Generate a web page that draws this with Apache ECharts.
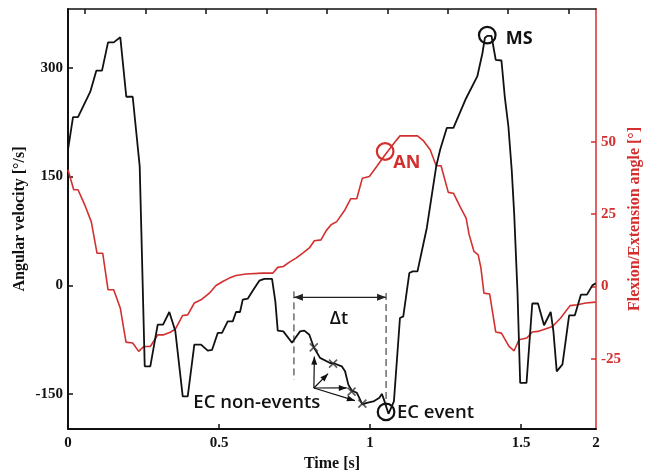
<!DOCTYPE html>
<html>
<head>
<meta charset="utf-8">
<script src="https://cdn.jsdelivr.net/npm/echarts@6/dist/echarts.min.js"></script>
<style>html,body{margin:0;padding:0;background:#fff}#c{width:657px;height:471px}</style>
</head>
<body>
<div id="c"></div>
<script>
// ---- axis ticks / labels ----
const xTickValues = [0, 0.5, 1, 1.5, 1.748];
const xTickLabels = ['0', '0.5', '1', '1.5', '2'];
const topTickValues = [0.057, 0.257, 0.457, 0.657, 0.857, 1.057, 1.257, 1.457, 1.657];
const velTicks = [-150, 0, 150, 300];
const angTicks = [-25, 0, 25, 50];

// ---- angular velocity (black, left axis) ----
const velTime = [0, 0.0166, 0.0331, 0.0738, 0.0937, 0.1126, 0.1325, 0.1513, 0.1732, 0.1930, 0.2142, 0.2252, 0.2374, 0.2427,
  0.254, 0.2725, 0.297, 0.3146, 0.3354, 0.3553, 0.3798, 0.3964, 0.4182, 0.4404, 0.4626, 0.4768, 0.4957, 0.5099, 0.5288,
  0.5454, 0.5563, 0.5695, 0.5785, 0.595, 0.6136, 0.6334, 0.65, 0.6755, 0.6864, 0.6944, 0.7129, 0.7417, 0.7526, 0.7682,
  0.7825, 0.799, 0.8136, 0.8344, 0.8675, 0.8841, 0.9063, 0.9172, 0.9281, 0.9394, 0.956, 0.9745, 0.9891, 1.011, 1.031,
  1.039, 1.046, 1.061, 1.079, 1.099, 1.110, 1.130, 1.141, 1.157, 1.188, 1.219, 1.232, 1.254, 1.276, 1.318, 1.355, 1.372,
  1.380, 1.388, 1.402, 1.416, 1.435, 1.446, 1.458, 1.469, 1.477, 1.488, 1.497, 1.518, 1.537, 1.556, 1.576, 1.598, 1.607,
  1.618, 1.637, 1.659, 1.678, 1.698, 1.718, 1.736, 1.747];
const velValues = [187, 232, 232, 267, 296, 296, 335, 335, 342, 260, 260, 214.5, 164, 77,
  -111.6, -111.6, -54, -54, -36.7, -63, -153, -153, -81.7, -81.7, -90, -89, -65.6, -65.6, -49.6,
  -49.6, -36.7, -36.7, -19.7, -18.3, -6, 6.5, 9, 9, -22, -62.4, -63.4, -79, -72.5, -63.4,
  -62.4, -68, -85.4, -100, -107, -108, -111.6, -118.5, -136.8, -145, -148, -164, -162, -160, -155,
  -149.6, -157.5, -177, -160, -45, -42.7, 17, 19.3, 19.3, 79.5, 164, 187, 217, 217, 258, 288, 320,
  341, 344, 344, 311, 310, 260, 219, 159, 100, -8, -134.5, -134.5, -25, -25, -55, -36.7, -63.4,
  -118.5, -109, -41.3, -41.3, -12.8, -12.8, 0, 2.8];

// ---- flexion/extension angle (red, right axis) ----
const angTime = [0, 0.0189, 0.0331, 0.0553, 0.0772, 0.096, 0.1149, 0.1325, 0.1513, 0.1732, 0.192, 0.2142, 0.2341, 0.2507,
  0.2725, 0.297, 0.3169, 0.3387, 0.3553, 0.3798, 0.3964, 0.4182, 0.4404, 0.4679, 0.4901, 0.5123, 0.5341, 0.5563, 0.5894,
  0.6447, 0.6778, 0.6944, 0.7129, 0.7328, 0.755, 0.7772, 0.799, 0.8156, 0.8377, 0.8543, 0.8709, 0.8897, 0.9172, 0.9361,
  0.956, 0.9745, 0.9977, 1.022, 1.050, 1.083, 1.099, 1.157, 1.176, 1.199, 1.219, 1.235, 1.259, 1.276, 1.298, 1.318, 1.328,
  1.344, 1.358, 1.367, 1.377, 1.396, 1.416, 1.435, 1.460, 1.477, 1.493, 1.519, 1.537, 1.556, 1.604, 1.631, 1.662, 1.686,
  1.714, 1.747];
const angValues = [40.3, 33.4, 33.4, 28.2, 22.3, 11.5, 11.5, -1.1, -1.1, -7.5, -19.2, -19.5, -22.4, -20.7,
  -20.7, -16.7, -16.7, -15.8, -14.7, -10, -9.8, -5.7, -4.6, -2.3, 0.35, 1.7, 2.9, 3.8, 4.3,
  4.6, 4.6, 6.6, 6.9, 8.4, 9.8, 11.5, 13.3, 15.8, 16.1, 19.2, 21.3, 22.4, 26.5, 30.3,
  30.3, 37.4, 38, 41.4, 45.5, 50, 52, 52, 50.4, 47.2, 41.7, 41.7, 32.5, 32.2, 27.6, 23.6, 17.9,
  12.1, 10.9, 6.4, -2.3, -2.6, -15.7, -16.1, -20.7, -22.2, -18.4, -17.8, -15.7, -15.5, -13.8, -10.9, -6.6, -6.3,
  -5.7, -5.4];

// ---- EC non-event markers (on velocity curve) ----
const nonEventTime = [0.8136, 0.8775, 0.9387, 0.9745];
const nonEventValues = [-85.4, -107.9, -146.5, -163];

const RED = '#d42f2f';
const BLACK = '#111';
const serif = 'Liberation Serif';
const sans = 'Open Sans';

const chart = echarts.init(document.getElementById('c'), null, {renderer: 'canvas'});

const velData = velTime.map((t, i) => [t, velValues[i]]);
const angData = angTime.map((t, i) => [t, angValues[i]]);
const nonEventData = nonEventTime.map((t, i) => [t, nonEventValues[i]]);

chart.setOption({
  animation: false,
  backgroundColor: '#fff',
  grid: {left: 68, right: 61, top: 9, bottom: 42, containLabel: false, outerBoundsMode: 'none'},
  xAxis: [{
    type: 'value', position: 'bottom', min: 0, max: 1.748,
    name: 'Time [s]', nameLocation: 'middle', nameGap: 21,
    nameTextStyle: {fontFamily: serif, fontWeight: 'bold', fontSize: 16, color: '#111'},
    axisLine: {show: true, onZero: false, lineStyle: {color: '#111', width: 2}},
    axisTick: {show: true, inside: true, length: 5, customValues: [0.5, 1, 1.5], lineStyle: {color: '#111', width: 1.5}},
    axisLabel: {customValues: xTickValues, margin: 7, fontFamily: serif, fontWeight: 'bold', fontSize: 15, color: '#111',
      formatter: v => { const i = xTickValues.findIndex(x => Math.abs(x - v) < 1e-6); return i >= 0 ? xTickLabels[i] : ''; }},
    splitLine: {show: false}
  }, {
    type: 'value', position: 'top', min: 0, max: 1.748,
    axisLine: {show: true, onZero: false, lineStyle: {color: '#111', width: 1.5}},
    axisTick: {show: true, inside: true, length: 5, customValues: topTickValues, lineStyle: {color: '#111', width: 1.5}},
    axisLabel: {show: false},
    splitLine: {show: false}
  }],
  yAxis: [{
    type: 'value', position: 'left', min: -198, max: 381,
    name: 'Angular velocity [°/s]', nameLocation: 'middle', nameGap: 40, nameRotate: 90, nameMoveOverlap: false,
    nameTextStyle: {fontFamily: serif, fontWeight: 'bold', fontSize: 16, color: '#111'},
    axisLine: {show: true, onZero: false, lineStyle: {color: '#111', width: 2}},
    axisTick: {show: true, inside: true, length: 5, customValues: velTicks, lineStyle: {color: '#111', width: 1.5}},
    axisLabel: {customValues: velTicks, margin: 5, fontFamily: serif, fontWeight: 'bold', fontSize: 15, color: '#111'},
    splitLine: {show: false}
  }, {
    type: 'value', position: 'right', min: -49.2, max: 95.8,
    name: 'Flexion/Extension angle [°]', nameLocation: 'middle', nameGap: 31, nameRotate: 90, nameMoveOverlap: false,
    nameTextStyle: {fontFamily: serif, fontWeight: 'bold', fontSize: 16, color: RED},
    axisLine: {show: true, onZero: false, lineStyle: {color: RED, width: 1.5}},
    axisTick: {show: true, inside: true, length: 5, customValues: angTicks, lineStyle: {color: RED, width: 1.5}},
    axisLabel: {customValues: angTicks, margin: 5, fontFamily: serif, fontWeight: 'bold', fontSize: 15, color: RED},
    splitLine: {show: false}
  }],
  series: [{
    type: 'line', name: 'angle', xAxisIndex: 0, yAxisIndex: 1, data: angData,
    showSymbol: false, symbol: 'none', lineStyle: {color: RED, width: 1.6}, z: 2
  }, {
    type: 'line', name: 'velocity', xAxisIndex: 0, yAxisIndex: 0, data: velData,
    showSymbol: false, symbol: 'none', lineStyle: {color: BLACK, width: 1.8}, z: 3
  }, {
    type: 'scatter', name: 'EC non-events', xAxisIndex: 0, yAxisIndex: 0, data: nonEventData,
    symbol: 'path://M0,0L10,10M10,0L0,10', symbolSize: 8,
    itemStyle: {color: 'transparent', borderColor: '#333', borderWidth: 1.6}, z: 4
  }]
});

// ---- annotations (data units) ----
const msCircle = [1.388, 345];
const anCircle = [1.050, 46.6];
const ecCircle = [1.053, -174.4];
const msText = [1.449, 340];
const anText = [1.077, 42.7];
const ecText = [1.089, -175];
const nonEvText = [0.415, -161.6];
const dtText = [0.897, -45.5];
const dtStart = 0.748, dtEnd = 1.053, dtArrowV = -16.5;
const dashLeft = [-8.3, -130];
const dashRight = [-10.5, -166.7];
const arrowOrigin = [0.814, -141.5];
const arrowEnds = [[0.8156, -98.2], [0.861, -121.7], [0.923, -141.4], [0.950, -158.9]];

const pv = p => chart.convertToPixel({xAxisIndex: 0, yAxisIndex: 0}, p);
const pa = p => chart.convertToPixel({xAxisIndex: 0, yAxisIndex: 1}, p);

function arrowHead(from, to, len, w, color) {
  const dx = to[0] - from[0], dy = to[1] - from[1];
  const L = Math.hypot(dx, dy) || 1;
  const ux = dx / L, uy = dy / L;
  const bx = to[0] - ux * len, by = to[1] - uy * len;
  return {type: 'polygon', shape: {points: [[to[0], to[1]], [bx - uy * w / 2, by + ux * w / 2], [bx + uy * w / 2, by - ux * w / 2]]},
    style: {fill: color}, z: 20};
}
function arrow(from, to, color) {
  return [
    {type: 'line', shape: {x1: from[0], y1: from[1], x2: to[0], y2: to[1]}, style: {stroke: color, lineWidth: 1.2}, z: 20},
    arrowHead(from, to, 8, 6, color)
  ];
}
function txt(p, text, color, weight, size, align) {
  return {type: 'text', x: p[0], y: p[1], z: 30,
    style: {text: text, fill: color, font: weight + ' ' + size + 'px "' + sans + '"', align: align || 'left', verticalAlign: 'middle',
      textAlign: align || 'left', textVerticalAlign: 'middle'}};
}
function circ(p, color) {
  return {type: 'circle', shape: {cx: p[0], cy: p[1], r: 8.3}, style: {fill: 'none', stroke: color, lineWidth: 2.2}, z: 25};
}

const g = [];
g.push(circ(pv(msCircle), BLACK));
g.push(circ(pa(anCircle), RED));
g.push(circ(pv(ecCircle), BLACK));
g.push(txt(pv(msText), 'MS', BLACK, 'bold', 18));
g.push(txt(pa(anText), 'AN', RED, 'bold', 18));
g.push(txt(pv(ecText), 'EC event', BLACK, '600', 18.5));
g.push(txt(pv(nonEvText), 'EC non-events', BLACK, '600', 18.5));
g.push(txt(pv(dtText), 'Δt', BLACK, '600', 18, 'center'));
// dashed verticals
[[dtStart, dashLeft], [dtEnd, dashRight]].forEach(([t, r]) => {
  const a = pv([t, r[0]]), b = pv([t, r[1]]);
  g.push({type: 'line', shape: {x1: a[0], y1: a[1], x2: b[0], y2: b[1]}, style: {stroke: '#222', lineWidth: 1, lineDash: [7, 4]}, z: 20});
});
// double arrow for Δt
const dA = pv([dtStart, dtArrowV]), dB = pv([dtEnd, dtArrowV]);
g.push({type: 'line', shape: {x1: dA[0], y1: dA[1], x2: dB[0], y2: dB[1]}, style: {stroke: '#222', lineWidth: 1.2}, z: 20});
g.push(arrowHead(dB, dA, 9, 7, '#222'));
g.push(arrowHead(dA, dB, 9, 7, '#222'));
// arrows to non-events
const o = pv(arrowOrigin);
arrowEnds.forEach(e => arrow(o, pv(e), '#111').forEach(el => g.push(el)));

chart.setOption({graphic: {elements: g}});
</script>
</body>
</html>
